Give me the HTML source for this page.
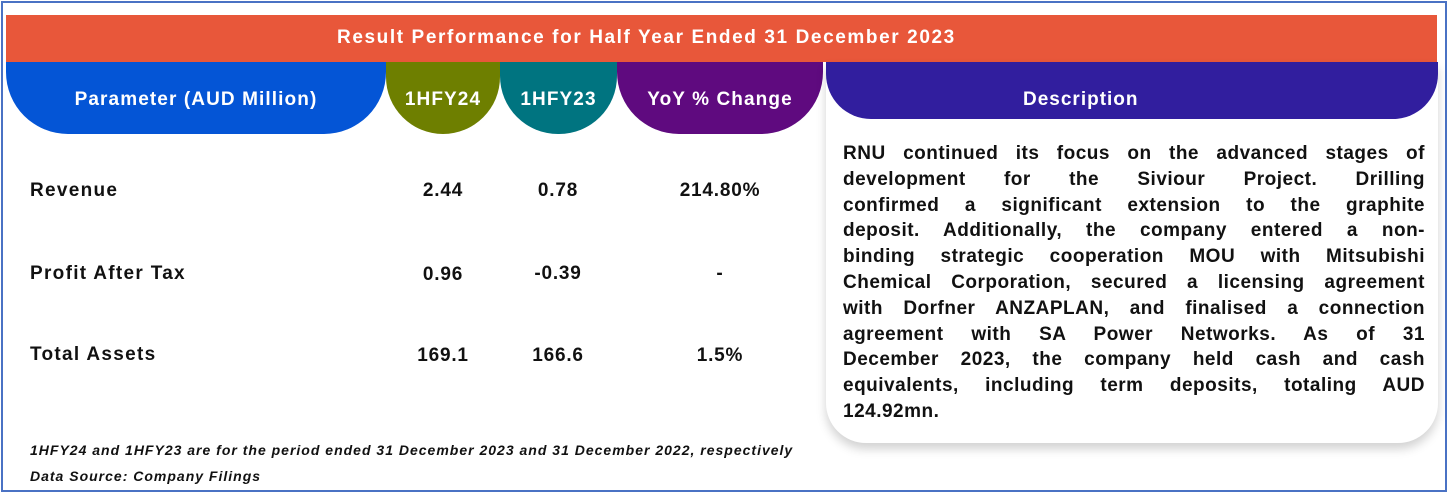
<!DOCTYPE html>
<html><head><meta charset="utf-8">
<style>
*{margin:0;padding:0;box-sizing:border-box}
body{width:1448px;height:493px;background:#fff;font-family:"Liberation Sans",sans-serif;position:relative;overflow:hidden}
.frame{position:absolute;left:1px;top:1px;width:1446px;height:491px;border:2px solid #4a72c4}
.abs{position:absolute}
.title{left:6px;top:15px;width:1431px;height:47px;background:#e8573a;color:#fff;font-weight:bold;font-size:19px;letter-spacing:1.6px;line-height:46px}
.title span{position:absolute;left:331px;top:0;white-space:nowrap}
.pill{top:62px;height:72px;color:#fff;font-weight:bold;font-size:19px;letter-spacing:1.1px;display:flex;align-items:center;justify-content:center;padding-top:4px}
.lbl{left:30px;font-weight:bold;font-size:19px;letter-spacing:1.3px;color:#111}
.val{font-weight:bold;font-size:19px;letter-spacing:0.8px;color:#111;width:140px;text-align:center;margin-left:-70px}
.desc{left:826px;top:62px;width:612px;height:381px;border-radius:0 0 40px 40px;background:#fff;box-shadow:0 6px 10px rgba(0,0,0,0.18)}
.dh{position:absolute;left:0;top:0;width:612px;height:57px;background:#311e9e;border-radius:0 0 45px 45px;color:#fff;font-weight:bold;font-size:19px;letter-spacing:1px}
.dh span{position:absolute;left:197px;top:27px}
.dt{position:absolute;left:17px;top:79px;width:582px;font-weight:bold;font-size:19px;letter-spacing:0.5px;color:#111;line-height:25.8px}
.dt div{text-align:justify;text-align-last:justify;white-space:nowrap;display:block}
.dt div.last{text-align-last:left}
.foot{left:30px;font-weight:bold;font-style:italic;font-size:14px;letter-spacing:1px;color:#111;white-space:nowrap}
</style></head><body>
<div class="frame"></div>
<div class="abs title"><span>Result Performance for Half Year Ended 31 December 2023</span></div>
<div class="abs pill" style="left:6px;width:380px;background:#0455d6;border-radius:0 0 62px 62px">Parameter (AUD Million)</div>
<div class="abs pill" style="left:386px;width:114px;background:#6e7f00;border-radius:0 0 57px 57px">1HFY24</div>
<div class="abs pill" style="left:500px;width:117px;background:#007480;border-radius:0 0 58px 58px">1HFY23</div>
<div class="abs pill" style="left:617px;width:206px;background:#5f0a7f;border-radius:0 0 62px 62px">YoY % Change</div>

<div class="abs lbl" style="top:180px">Revenue</div>
<div class="abs val" style="left:443px;top:180px">2.44</div>
<div class="abs val" style="left:558px;top:180px">0.78</div>
<div class="abs val" style="left:720px;top:180px">214.80%</div>

<div class="abs lbl" style="top:263px">Profit After Tax</div>
<div class="abs val" style="left:443px;top:264px">0.96</div>
<div class="abs val" style="left:558px;top:263px">-0.39</div>
<div class="abs val" style="left:720px;top:263px">-</div>

<div class="abs lbl" style="top:344px">Total Assets</div>
<div class="abs val" style="left:443px;top:345px">169.1</div>
<div class="abs val" style="left:558px;top:345px">166.6</div>
<div class="abs val" style="left:720px;top:345px">1.5%</div>

<div class="abs desc">
<div class="dh"><span>Description</span></div>
<div class="dt">
<div>RNU continued its focus on the advanced stages of</div>
<div>development for the Siviour Project. Drilling</div>
<div>confirmed a significant extension to the graphite</div>
<div>deposit. Additionally, the company entered a non-</div>
<div>binding strategic cooperation MOU with Mitsubishi</div>
<div>Chemical Corporation, secured a licensing agreement</div>
<div>with Dorfner ANZAPLAN, and finalised a connection</div>
<div>agreement with SA Power Networks. As of 31</div>
<div>December 2023, the company held cash and cash</div>
<div>equivalents, including term deposits, totaling AUD</div>
<div class="last">124.92mn.</div>
</div>
</div>

<div class="abs foot" style="top:442px">1HFY24 and 1HFY23 are for the period ended 31 December 2023 and 31 December 2022, respectively</div>
<div class="abs foot" style="top:468px">Data Source: Company Filings</div>
</body></html>
